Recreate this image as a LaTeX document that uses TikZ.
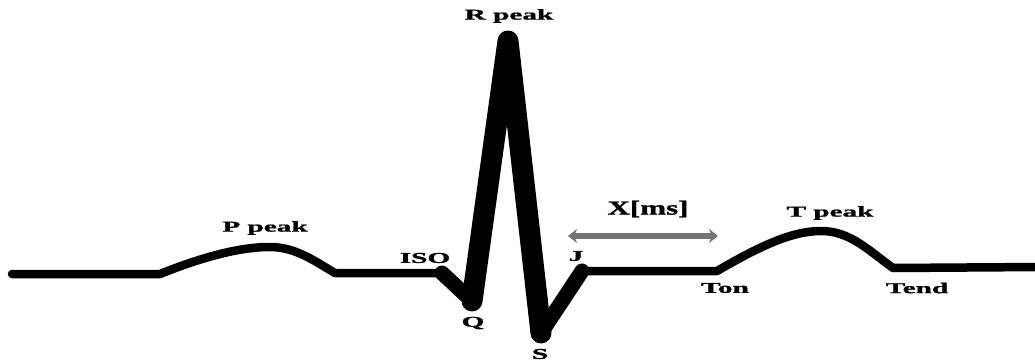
\documentclass[tikz,border=0pt]{standalone}
\usepackage{fontspec}
\setmainfont{Liberation Serif}[BoldFeatures={FakeBold=1.2}]
\usepackage{graphicx}
\usetikzlibrary{arrows.meta}
\definecolor{arrowgray}{RGB}{115,115,115}
\newcommand{\wide}[1]{\scalebox{1.95}[1]{#1}}

\begin{document}
\begin{tikzpicture}[x=1pt, y=-1pt, every node/.style={font=\bfseries}]
\tikzset{
    wave/.style={line width=8.5pt, line join=round, line cap=round},
    qrs/.style={line width=21pt, line join=round, line cap=round},
    qrsside/.style={line width=15pt, line join=round, line cap=round},
    xarrow/.style={arrowgray, line width=5.5pt, {Stealth[length=9pt,width=14pt]}-{Stealth[length=9pt,width=14pt]}},
    labelnode/.style={inner sep=1pt, font=\fontsize{15}{15}\selectfont\bfseries},
    bignode/.style={inner sep=1pt, font=\fontsize{20}{20}\selectfont\bfseries}
}
\useasboundingbox (0,0) rectangle (1035,361);

% points of the trace
\coordinate (start) at (12,274);
\coordinate (pon)   at (160,274);
\coordinate (ppeak) at (270,247);
\coordinate (pend)  at (335,273);
\coordinate (iso)   at (442,273);
\coordinate (q)     at (472,301);
\coordinate (r)     at (508,41);
\coordinate (s)     at (541,333);
\coordinate (j)     at (582,271);
\coordinate (ton)   at (717,271);
\coordinate (tpeak) at (821,231);
\coordinate (tend)  at (893,268);
\coordinate (stop)  at (1040,267);

% baseline, P wave and T wave
\draw[wave] (start) -- (pon)
    .. controls (200,258) and (238,247) .. (ppeak)
    .. controls (296,247) and (316,262) .. (pend) -- (iso);
\draw[wave] (j) -- (ton)
    .. controls (760,246) and (792,231) .. (tpeak)
    .. controls (850,231) and (868,250) .. (tend) -- (stop);

% QRS complex
\draw[qrsside] (iso) -- (q);
\draw[qrs] (q) -- (r) -- (s);
\draw[qrsside] (s) -- (j);

% interval arrow
\coordinate (xl) at (568,236);
\coordinate (xr) at (718,236);
\draw[xarrow] (xl) -- (xr);
\node[bignode] (xms) at (648,209) {\scalebox{1.55}[1]{X[ms]}};

% labels
\node[labelnode] (rlab) at (509,16)  {\wide{R peak}};
\node[labelnode] (plab) at (265,228) {\wide{P peak}};
\node[labelnode] (isolab) at (425,258) {\wide{ISO}};
\node[labelnode] (qlab) at (473,323) {\wide{Q}};
\node[labelnode] (slab) at (540,354) {\wide{S}};
\node[labelnode] (jlab) at (576,256) {\wide{J}};
\node[labelnode] (tonlab) at (725,288) {\wide{Ton}};
\node[labelnode] (tlab) at (830,213) {\wide{T peak}};
\node[labelnode] (tendlab) at (917,288) {\wide{Tend}};
\end{tikzpicture}
\end{document}
